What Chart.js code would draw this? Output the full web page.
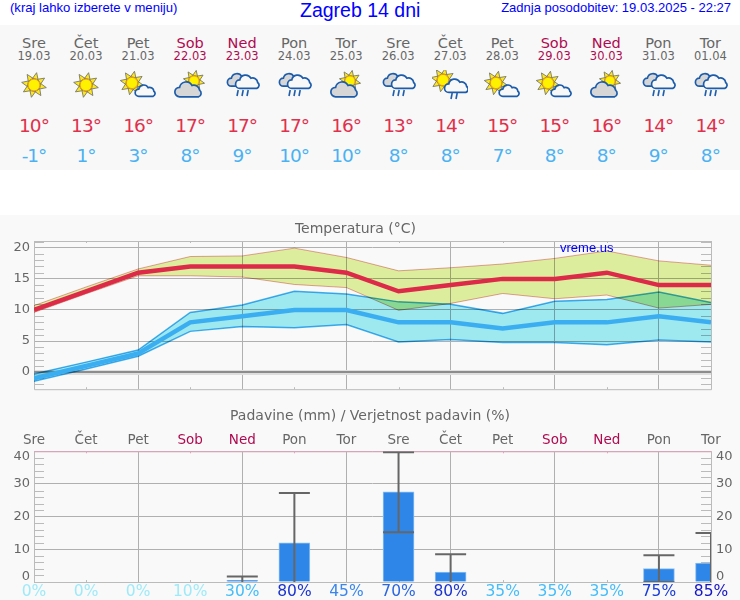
<!DOCTYPE html>
<html>
<head>
<meta charset="utf-8">
<title>Zagreb 14 dni</title>
<script src="https://cdn.jsdelivr.net/npm/chart.js@4"></script>
<style>
    html, body { margin: 0; padding: 0; background: #fff; }
    body { position: relative; width: 740px; height: 600px; overflow: hidden; font-family: "DejaVu Sans", sans-serif; }
    .top-text { position: absolute; color: #0000ff; font-family: "Liberation Sans", sans-serif; white-space: nowrap; }
    #panel { position: absolute; left: 0; top: 25px; width: 740px; height: 145px; background: #f8f8f8; }
    #lower { position: absolute; left: 0; top: 215px; width: 740px; height: 385px; background: #f9f9f9; }
    .cell { position: absolute; width: 52px; margin-left: -26px; text-align: center; white-space: nowrap; line-height: 1; }
    .temp { font-size: 18.5px; letter-spacing: -1px; }
    .icon { position: absolute; width: 36px; height: 30px; margin-left: -18px; top: 45px; }
    canvas { position: absolute; left: 0; }
</style>
</head>
<body>
<div class="top-text" style="left: 10px; top: 0; font-size: 13.1px;">(kraj lahko izberete v meniju)</div>
<div class="top-text" style="left: 300px; top: -1px; font-size: 19.5px;">Zagreb 14 dni</div>
<div class="top-text" style="right: 9px; top: 0; font-size: 13px;">Zadnja posodobitev: 19.03.2025 - 22:27</div>
<div id="panel"></div>
<div id="lower"></div>
<canvas id="temp-chart" width="740" height="186" style="top: 215px; width: 740px; height: 186px;"></canvas>
<canvas id="rain-chart" width="740" height="200" style="top: 400px; width: 740px; height: 200px;"></canvas>
<div class="top-text" style="left: 560px; top: 240px; font-size: 13px;">vreme.us</div>

<script>
const dayNames = ['Sre', 'Čet', 'Pet', 'Sob', 'Ned', 'Pon', 'Tor', 'Sre', 'Čet', 'Pet', 'Sob', 'Ned', 'Pon', 'Tor'];
const dates = ['19.03', '20.03', '21.03', '22.03', '23.03', '24.03', '25.03', '26.03', '27.03', '28.03', '29.03', '30.03', '31.03', '01.04'];
const icons = ['sun', 'sun', 'sunCloud', 'cloudSun', 'rain', 'rain', 'cloudSun', 'rain', 'sunRain', 'sunCloud', 'sunCloud', 'cloudSun', 'rain', 'rain'];

const tempMax = [10, 13, 16, 17, 17, 17, 16, 13, 14, 15, 15, 16, 14, 14];
const tempMin = [-1, 1, 3, 8, 9, 10, 10, 8, 8, 7, 8, 8, 9, 8];
const maxBandHigh = [10.7, 13.7, 16.6, 18.6, 18.7, 19.95, 18.45, 16.3, 16.8, 17.4, 18.3, 19.5, 17.9, 17.2];
const maxBandLow = [9.6, 12.6, 15.5, 15.5, 15.3, 14.1, 13.6, 9.95, 11.05, 12.65, 11.8, 12.4, 10.3, 10.9];
const minBandHigh = [-0.3, 1.6, 3.55, 9.6, 10.8, 13, 12.55, 11.3, 10.9, 9.45, 11.4, 11.7, 12.9, 11.2];
const minBandLow = [-1.5, 0.5, 2.55, 6.55, 7.35, 7.15, 7.65, 4.85, 5.25, 4.75, 4.75, 4.4, 5.15, 4.85];

const rainAmount = [0, 0, 0, 0, 0.5, 12, 0, 27.6, 3, 0, 0, 0, 4.1, 5.8];
const rainErrHigh = [null, null, null, null, 1.7, 27.2, null, 39.7, 8.5, null, null, null, 8.2, 15];
const rainErrLow = [null, null, null, null, -1, -1, null, 15.2, -1, null, null, null, 0, -1];
const rainChance = [0, 0, 0, 10, 30, 80, 45, 70, 80, 35, 35, 35, 75, 85];
const chanceColors = { 0: '#9eeaf8', 10: '#9eeaf8', 30: '#44bdfa', 35: '#44bdfa', 45: '#3a86ee', 70: '#2a66e0', 75: '#1a3cd8', 80: '#1a33d0', 85: '#1414c8' };

const TEXT_GRAY = '#666';
const WEEKEND = '#b00a50';
const GRID = '#b0b0b0';
const PLOT_LEFT = 34;
const COL_STEP = 52.03;

function isWeekend(i) {
    return dayNames[i] === 'Sob' || dayNames[i] === 'Ned';
}

function sunSvg(cx, cy, s) {
    let rays = '';
    for (let i = 0; i < 8; i++) {
        const a = (i * 45 + 12) * Math.PI / 180;
        const b = 0.42;
        const p1 = [cx + Math.cos(a - b) * 6.5 * s, cy + Math.sin(a - b) * 6.5 * s];
        const p2 = [cx + Math.cos(a + b) * 6.5 * s, cy + Math.sin(a + b) * 6.5 * s];
        const tip = [cx + Math.cos(a) * 12 * s, cy + Math.sin(a) * 12 * s];
        rays += `<polygon points="${p1} ${tip} ${p2}" fill="#ffe81a" stroke="#77776a" stroke-width="0.9"/>`;
    }
    return rays + `<circle cx="${cx}" cy="${cy}" r="${5.6 * s}" fill="#fff200" stroke="#f59a00" stroke-width="1"/>`;
}

function cloudSvg(x, y, s, fill) {
    return `<path transform="translate(${x} ${y}) scale(${s})" d="M8 24 a5 5 0 0 1 0-10 a7 7 0 0 1 13-2 a6 6 0 0 1 8 5 a4 4 0 0 1 -1 7 z" fill="${fill}" stroke="#1c5cab" stroke-width="${1.7 / s}"/>`;
}

function rainSvg(x, y, count) {
    let out = '';
    for (let i = 0; i < count; i++) {
        const lx = x + i * 5;
        out += `<line x1="${lx + 1.2}" y1="${y}" x2="${lx}" y2="${y + 6}" stroke="#1c5cab" stroke-width="1.6"/>`;
    }
    return out;
}

function iconSvg(type) {
    let body = '';
    if (type === 'sun') body = sunSvg(18, 15, 1.05);
    if (type === 'sunCloud') body = sunSvg(12, 13, 1) + cloudSvg(13, 9, 0.72, '#f8f8f8');
    if (type === 'cloudSun') body = sunSvg(22, 11, 0.9) + cloudSvg(0, 4, 0.95, '#d6d6d6');
    if (type === 'rain') body = cloudSvg(1, -3, 0.8, '#d6d6d6') + cloudSvg(9, -2, 0.85, '#f8f8f8') + rainSvg(13, 20, 3);
    if (type === 'sunRain') body = sunSvg(11, 10, 1) + cloudSvg(10, 2, 0.85, '#f8f8f8') + rainSvg(19, 23, 2);
    return `<svg xmlns="http://www.w3.org/2000/svg" viewBox="0 0 36 30" width="36" height="30">${body}</svg>`;
}

function renderPanel() {
    const panel = document.getElementById('panel');
    let html = '';
    dayNames.forEach((name, i) => {
        const left = PLOT_LEFT + i * COL_STEP;
        const color = isWeekend(i) ? WEEKEND : TEXT_GRAY;
        html += `<div class="cell" style="left:${left}px;top:11px;font-size:14.5px;color:${color}">${name}</div>`;
        html += `<div class="cell" style="left:${left}px;top:26px;font-size:11.5px;color:${color}">${dates[i]}</div>`;
        html += `<div class="icon" style="left:${left}px">${iconSvg(icons[i])}</div>`;
        html += `<div class="cell temp" style="left:${left}px;top:92px;color:#e0304c">${tempMax[i]}°</div>`;
        html += `<div class="cell temp" style="left:${left}px;top:122px;color:#4ab2f2">${tempMin[i]}°</div>`;
    });
    panel.innerHTML = html;
}

function xyPoints(values) {
    return values.map((y, x) => ({ x, y }));
}

// first and last rain axis labels sit inside the plot height, not on their tick
function rainAxisLabel(v) {
    if (v === 40) return ['', '40'];
    if (v === 0) return ['0', ''];
    return String(v);
}

// border, inner minor ticks and the zero line, all placed through the scales
const framePlugin = {
    id: 'frame',
    beforeDatasetsDraw(chart, args, opts) {
        const { ctx, chartArea: area, scales } = chart;
        const yScale = scales.y;
        const xScale = scales.x;
        ctx.save();
        ctx.lineWidth = 1;
        ctx.strokeStyle = '#bbb';
        for (let v = opts.minorStart; v <= yScale.max; v += opts.minorStep) {
            if (v % opts.majorStep === 0) continue;
            const py = Math.round(yScale.getPixelForValue(v)) + 0.5;
            ctx.beginPath();
            ctx.moveTo(area.left, py);
            ctx.lineTo(area.left + 10, py);
            ctx.moveTo(area.right - 10, py);
            ctx.lineTo(area.right, py);
            ctx.stroke();
        }
        for (let v = 1; v < 13; v += 2) {
            const px = Math.round(xScale.getPixelForValue(v)) + 0.5;
            ctx.strokeStyle = '#bbb';
            ctx.beginPath();
            ctx.moveTo(px, area.bottom);
            ctx.lineTo(px, area.bottom - 2);
            ctx.stroke();
            ctx.strokeStyle = opts.topColor;
            ctx.beginPath();
            ctx.moveTo(px, area.top);
            ctx.lineTo(px, area.top + 2);
            ctx.stroke();
        }
        ctx.strokeStyle = '#bbb';
        ctx.beginPath();
        ctx.moveTo(area.left + 0.5, area.top);
        ctx.lineTo(area.left + 0.5, area.bottom + 0.5);
        ctx.lineTo(area.right + 0.5, area.bottom + 0.5);
        ctx.lineTo(area.right + 0.5, area.top);
        ctx.stroke();
        ctx.strokeStyle = opts.topColor;
        ctx.beginPath();
        ctx.moveTo(area.left, area.top + 0.5);
        ctx.lineTo(area.right + 1, area.top + 0.5);
        ctx.stroke();
        if (opts.zeroLine) {
            const zero = Math.round(yScale.getPixelForValue(0));
            ctx.strokeStyle = '#8c8c8c';
            ctx.lineWidth = 2;
            ctx.beginPath();
            ctx.moveTo(area.left, zero);
            ctx.lineTo(area.right, zero);
            ctx.stroke();
        }
        ctx.restore();
    }
};

// the two bands multiply where they overlap, which gives the green patches
const multiplyBands = {
    id: 'multiplyBands',
    beforeDatasetsDraw(chart) {
        chart.ctx.globalCompositeOperation = 'multiply';
    },
    afterDatasetDraw(chart, args) {
        if (args.index === 2) chart.ctx.globalCompositeOperation = 'source-over';
    }
};

function renderTempChart() {
    const ctx = document.getElementById('temp-chart');
    new Chart(ctx, {
        type: 'line',
        data: {
            datasets: [
                { data: xyPoints(tempMax), borderColor: '#dc2a48', borderWidth: 4.5 },
                { data: xyPoints(tempMin), borderColor: '#3aaef0', borderWidth: 4.5 },
                { data: xyPoints(maxBandHigh), borderColor: '#eaa0a0', borderWidth: 1, backgroundColor: '#dcee9d', fill: 3 },
                { data: xyPoints(maxBandLow), borderColor: '#eaa0a0', borderWidth: 1 },
                { data: xyPoints(minBandHigh), borderColor: '#44aef0', borderWidth: 1.5, backgroundColor: '#9ee8f0', fill: 5 },
                { data: xyPoints(minBandLow), borderColor: '#44aef0', borderWidth: 1.5 }
            ]
        },
        options: {
            animation: false,
            responsive: false,
            elements: { point: { radius: 0 }, line: { tension: 0 } },
            layout: { padding: { right: 29 } },
            plugins: {
                legend: { display: false },
                tooltip: { enabled: false },
                title: {
                    display: true,
                    text: 'Temperatura (°C)',
                    color: TEXT_GRAY,
                    font: { family: 'DejaVu Sans', size: 14, weight: 'normal' },
                    padding: { top: 6, bottom: 3.2 }
                },
                frame: { minorStart: -2, minorStep: 1, majorStep: 5, topColor: '#bbb', zeroLine: true }
            },
            scales: {
                x: {
                    type: 'linear',
                    min: 0,
                    max: 13,
                    afterFit(scale) { scale.height = 8; },
                    border: { display: false },
                    ticks: { display: false, stepSize: 1 },
                    grid: {
                        drawTicks: false,
                        color: c => (c.tick.value % 2 === 0 ? GRID : 'transparent')
                    }
                },
                y: {
                    min: -2.76,
                    max: 21.1,
                    afterFit(scale) { scale.width = PLOT_LEFT; },
                    border: { display: false },
                    ticks: {
                        stepSize: 5,
                        includeBounds: false,
                        padding: 4,
                        color: TEXT_GRAY,
                        font: { family: 'DejaVu Sans', size: 13 }
                    },
                    grid: {
                        drawTicks: false,
                        color: c => (c.tick.value === 0 ? '#dedede' : GRID),
                        lineWidth: c => (c.tick.value === 0 ? 5 : 1)
                    }
                }
            }
        },
        plugins: [framePlugin, multiplyBands]
    });
}

function renderRainChart() {
    const ctx = document.getElementById('rain-chart');
    const whisker = [];
    rainErrHigh.forEach((high, x) => {
        if (high === null) return;
        whisker.push({ x, y: rainErrLow[x] }, { x, y: high }, { x, y: null });
    });

    new Chart(ctx, {
        data: {
            datasets: [
                {
                    type: 'line',
                    order: 0,
                    data: whisker,
                    xAxisID: 'x',
                    yAxisID: 'y',
                    borderColor: '#666',
                    borderWidth: 2,
                    spanGaps: false,
                    pointStyle: 'line',
                    pointRadius: 15.5,
                    pointBorderColor: '#666',
                    pointBorderWidth: 2
                },
                {
                    type: 'bar',
                    order: 1,
                    data: rainAmount.map((y, x) => ({ x, y: y > 0 ? y : null })),
                    xAxisID: 'x',
                    yAxisID: 'y',
                    barThickness: 31,
                    backgroundColor: '#2e86e8',
                    borderColor: '#8cc0f2',
                    borderWidth: 1
                }
            ]
        },
        options: {
            animation: false,
            responsive: false,
            plugins: {
                legend: { display: false },
                tooltip: { enabled: false },
                title: {
                    display: true,
                    text: 'Padavine (mm) / Verjetnost padavin (%)',
                    color: TEXT_GRAY,
                    font: { family: 'DejaVu Sans', size: 14, weight: 'normal' },
                    padding: { top: 7.5, bottom: 2 }
                },
                frame: { minorStart: 0, minorStep: 2, majorStep: 10, topColor: '#e2a4bc', zeroLine: false }
            },
            scales: {
                x: {
                    type: 'linear',
                    position: 'bottom',
                    offset: false,
                    min: 0,
                    max: 13,
                    afterFit(scale) { scale.height = 18; },
                    border: { display: false },
                    ticks: {
                        stepSize: 1,
                        autoSkip: false,
                        maxRotation: 0,
                        padding: 1,
                        callback: v => `${rainChance[v]}%`,
                        color: c => (c.tick ? chanceColors[rainChance[c.tick.value]] : TEXT_GRAY),
                        font: { family: 'DejaVu Sans', size: 15.5 }
                    },
                    grid: {
                        offset: false,
                        drawTicks: false,
                        color: c => (c.tick && c.tick.value % 2 === 0 ? GRID : 'transparent')
                    }
                },
                xTop: {
                    type: 'linear',
                    position: 'top',
                    offset: false,
                    min: 0,
                    max: 13,
                    afterFit(scale) { scale.height = 25; },
                    border: { display: false },
                    ticks: {
                        stepSize: 1,
                        autoSkip: false,
                        maxRotation: 0,
                        padding: 3,
                        callback: v => dayNames[v],
                        color: c => (c.tick && isWeekend(c.tick.value) ? WEEKEND : TEXT_GRAY),
                        font: { family: 'DejaVu Sans', size: 13.5 }
                    },
                    grid: { display: false, drawTicks: false }
                },
                y: {
                    min: 0,
                    max: 40,
                    afterFit(scale) { scale.width = PLOT_LEFT; },
                    border: { display: false },
                    ticks: {
                        stepSize: 10,
                        padding: 4,
                        callback: rainAxisLabel,
                        color: TEXT_GRAY,
                        font: { family: 'DejaVu Sans', size: 13, lineHeight: 0.8 }
                    },
                    grid: { drawTicks: false, color: GRID }
                },
                yRight: {
                    position: 'right',
                    min: 0,
                    max: 40,
                    afterFit(scale) { scale.width = 29; },
                    border: { display: false },
                    ticks: {
                        stepSize: 10,
                        padding: 5,
                        callback: rainAxisLabel,
                        color: TEXT_GRAY,
                        font: { family: 'DejaVu Sans', size: 13, lineHeight: 0.8 }
                    },
                    grid: { drawOnChartArea: false, drawTicks: false }
                }
            }
        },
        plugins: [framePlugin]
    });
}

renderPanel();
renderTempChart();
renderRainChart();
</script>
</body>
</html>
